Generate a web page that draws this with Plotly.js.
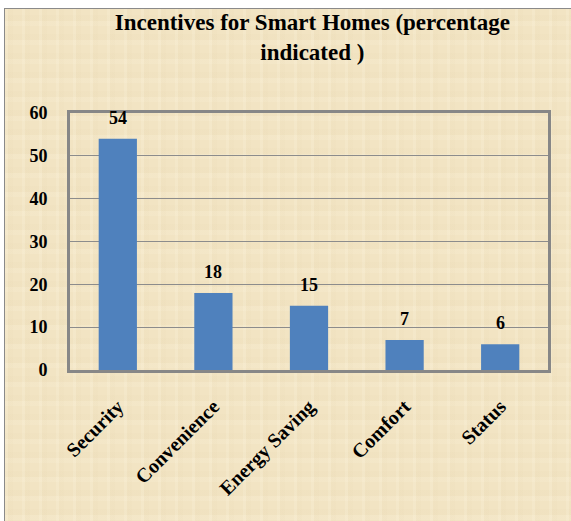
<!DOCTYPE html>
<html>
<head>
<meta charset="utf-8">
<script src="https://cdn.plot.ly/plotly-3.0.1.min.js"></script>
<style>
  html, body { margin: 0; padding: 0; background: #ffffff; width: 571px; height: 521px; overflow: hidden; }
  #frame {
    position: absolute; left: 4px; top: 8px; width: 580px; height: 530px;
    border-left: 1px solid #8a8a8a; border-top: 1px solid #8a8a8a;
    background-color: #F2E4C3;
    background-image:
      repeating-linear-gradient(90deg, rgba(255,250,232,0.16) 0px, rgba(255,250,232,0.16) 3px, rgba(215,195,150,0.05) 3px, rgba(215,195,150,0.05) 8px, rgba(255,250,230,0) 8px, rgba(255,250,230,0) 17px),
      repeating-linear-gradient(0deg, rgba(255,250,232,0.12) 0px, rgba(255,250,232,0.12) 5px, rgba(215,195,150,0.05) 5px, rgba(215,195,150,0.05) 11px, rgba(255,250,230,0) 11px, rgba(255,250,230,0) 19px);
  }
  #chart { position: absolute; left: 0; top: 0; width: 571px; height: 521px; }
</style>
</head>
<body>
<div id="frame"></div>
<div id="chart"></div>
<script>
const categories = ["Security", "Convenience", "Energy Saving", "Comfort", "Status"];
const values = [54, 18, 15, 7, 6];
const yTicks = [0, 10, 20, 30, 40, 50, 60];

const serif = "'Liberation Serif', 'Times New Roman', serif";

const data = [{
  type: "bar",
  x: categories,
  y: values,
  width: 0.4,
  marker: { color: "#4F81BD" },
  hoverinfo: "none"
}];

const annotations = categories.map((c, i) => ({
  x: c, y: values[i], xref: "x", yref: "y",
  text: String(values[i]),
  showarrow: false, yanchor: "bottom", yshift: 9,
  font: { family: serif, size: 18, color: "#000", weight: "bold" }
}));

const layout = {
  width: 571, height: 521,
  paper_bgcolor: "rgba(0,0,0,0)",
  plot_bgcolor: "rgba(0,0,0,0)",
  margin: { l: 70, r: 23, t: 113, b: 151 },
  showlegend: false,
  title: {
    text: "<b>Incentives for Smart Homes (percentage<br>indicated )</b>",
    font: { family: serif, size: 23, color: "#000" },
    x: 0.547, xanchor: "center", xref: "container",
    y: 0.942, yanchor: "top", yref: "container"
  },
  xaxis: {
    type: "category",
    tickangle: -45,
    tickfont: { family: serif, size: 20, color: "#000", weight: "bold" },
    showline: true, linecolor: "#878787", linewidth: 3, mirror: true,
    ticks: "", ticklabelstandoff: 14,
    showgrid: false
  },
  yaxis: {
    range: [0, 60],
    tickvals: yTicks,
    ticktext: yTicks.map(String),
    tickfont: { family: serif, size: 18, color: "#000", weight: "bold" },
    showline: true, linecolor: "#878787", linewidth: 3, mirror: true,
    showgrid: true, gridcolor: "#8c8c8c", gridwidth: 1,
    zeroline: false, ticks: "", ticklabelstandoff: 16
  },
  annotations: annotations
};

Plotly.newPlot("chart", data, layout, { displayModeBar: false, staticPlot: true });
</script>
</body>
</html>
